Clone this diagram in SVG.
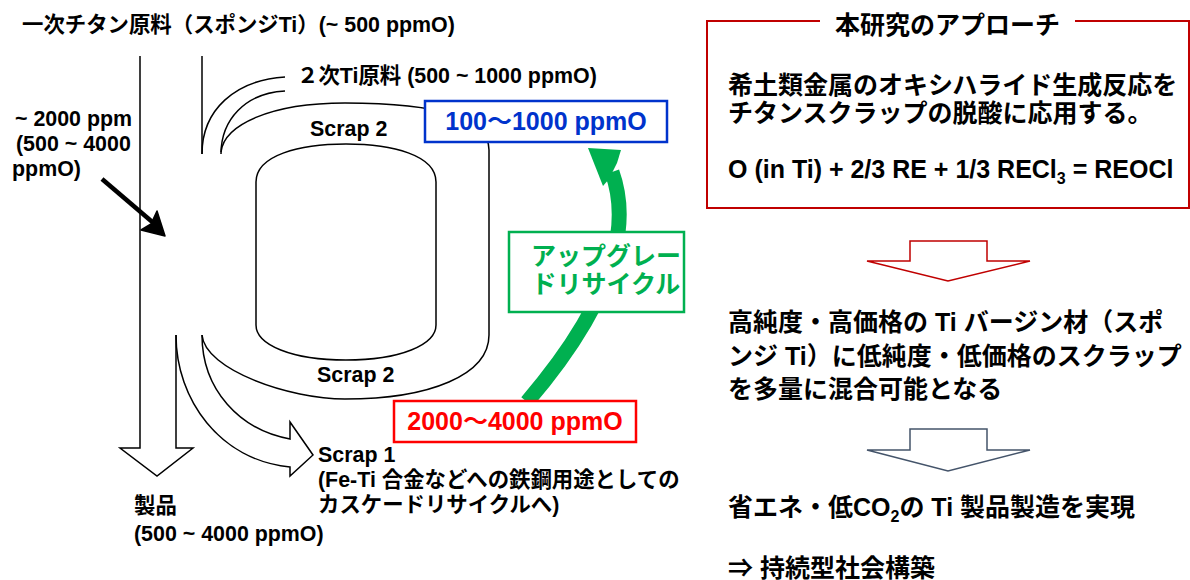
<svg xmlns="http://www.w3.org/2000/svg" width="1190" height="580" viewBox="0 0 1190 580">
<style>
text{font-family:"Liberation Sans","Noto Sans CJK JP",sans-serif;font-weight:bold;fill:#000}
.l{font-size:21.4px}
.r{font-size:25px}
.flow{fill:none;stroke:#000;stroke-width:1.5}
.box{fill:#fff;stroke-width:2.5}
</style>
<rect width="1190" height="580" fill="#fff"/>
<g id="connectors">
  <path class="flow" d="M140,56 V448 H120 L157,476 L193,448 H176 V335"/>
  <path class="flow" d="M202,56 V154"/>
  <path class="flow" d="M202,154 C202,110 235,80 285,77"/>
  <path class="flow" d="M221,154 C221,120 245,93 285,91"/>
  <path class="flow" d="M202,335 C202,390 240,430 290,439 V422 L313,455 L290,476 V467 C220,460 176,400 176,335"/>
  <path d="M102,179 L157,226" stroke="#000" stroke-width="4.5" fill="none"/>
  <path d="M165,236 L141,230 L151,224 L157,211 Z" fill="#000" stroke="#000" stroke-width="1.5" stroke-linejoin="round"/>
  <path d="M527,402 C580,340 640,250 612,172" fill="none" stroke="#00B050" stroke-width="15"/>
  <path d="M588,148 L621,150 L617,163 L609,179 L603,186 Z" fill="#00B050"/>
</g>
<g id="scrap2-ring">
  <path class="flow" d="M221,152 C224,125 270,103 345,103 C420,103 489,112 489,150 V335 C489,375 430,399 345,399 C290,399 205,370 202,335"/>
  <text class="l" x="310" y="136">Scrap 2</text>
  <text class="l" x="317" y="382">Scrap 2</text>
</g>
<g id="cylinder">
  <path class="flow" d="M256,325 V182 C256,155 300,144 346,144 C392,144 436,155 436,182 V325 C436,345 400,360 346,360 C292,360 256,345 256,325 Z"/>
</g>
<g id="primary">
  <text class="l" x="22" y="32">一次チタン原料（スポンジTi）(~ 500 ppmO)</text>
</g>
<g id="secondary">
  <text class="l" x="297" y="83">２次Ti原料 (500 ~ 1000 ppmO)</text>
</g>
<g id="oxygen-label">
  <text class="l" x="15" y="126">~ 2000 ppm</text>
  <text class="l" x="16" y="151">(500 ~ 4000</text>
  <text class="l" x="12" y="176">ppmO)</text>
</g>
<g id="product">
  <text class="l" x="134" y="513">製品</text>
  <text class="l" x="134" y="541">(500 ~ 4000 ppmO)</text>
</g>
<g id="scrap1">
  <text class="l" x="318" y="462">Scrap 1</text>
  <text class="l" x="318" y="487">(Fe-Ti 合金などへの鉄鋼用途としての</text>
  <text class="l" x="318" y="512">カスケードリサイクルへ)</text>
</g>
<g id="blue-box">
  <rect class="box" x="425" y="101" width="242" height="41" stroke="#0033CC"/>
  <text class="r" x="546" y="130" text-anchor="middle" style="fill:#0033CC">100～1000 ppmO</text>
</g>
<g id="red-box">
  <rect class="box" x="394" y="401" width="242" height="41" stroke="#FF0000"/>
  <text class="r" x="515" y="430" text-anchor="middle" style="fill:#FF0000">2000～4000 ppmO</text>
</g>
<g id="green-box">
  <rect class="box" x="509" y="232" width="175" height="80" stroke="#00B050"/>
  <text class="r" x="606" y="265" text-anchor="middle" style="fill:#00B050">アップグレー</text>
  <text class="r" x="606" y="293" text-anchor="middle" style="fill:#00B050">ドリサイクル</text>
</g>
<g id="approach">
  <path d="M820,21 H707 V208 H1189 V21 H1075" fill="none" stroke="#C00000" stroke-width="2"/>
  <text class="r" x="835" y="34">本研究のアプローチ</text>
  <text class="r" x="728" y="94">希土類金属のオキシハライド生成反応を</text>
  <text class="r" x="728" y="122">チタンスクラップの脱酸に応用する。</text>
  <text class="r" x="728" y="178">O (in Ti) + 2/3 RE + 1/3 RECl<tspan font-size="16" dy="6">3</tspan><tspan dy="-6"> = REOCl</tspan></text>
</g>
<g id="arrow-red">
  <path d="M910,241 H987 V261 H1030 L948,281 L867,261 H910 Z" fill="#fff" stroke="#C00000" stroke-width="1.5"/>
</g>
<g id="result">
  <text class="r" x="728" y="331">高純度・高価格の Ti バージン材（スポ</text>
  <text class="r" x="728" y="365">ンジ Ti）に低純度・低価格のスクラップ</text>
  <text class="r" x="728" y="398">を多量に混合可能となる</text>
</g>
<g id="arrow-gray">
  <path d="M910,429 H987 V450 H1030 L948,471 L867,450 H910 Z" fill="#fff" stroke="#44546A" stroke-width="1.5"/>
</g>
<g id="outcome">
  <text class="r" x="728" y="516">省エネ・低CO<tspan font-size="16" dy="6">2</tspan><tspan dy="-6">の Ti 製品製造を実現</tspan></text>
  <text class="r" x="728" y="577">⇒ 持続型社会構築</text>
</g>
</svg>
